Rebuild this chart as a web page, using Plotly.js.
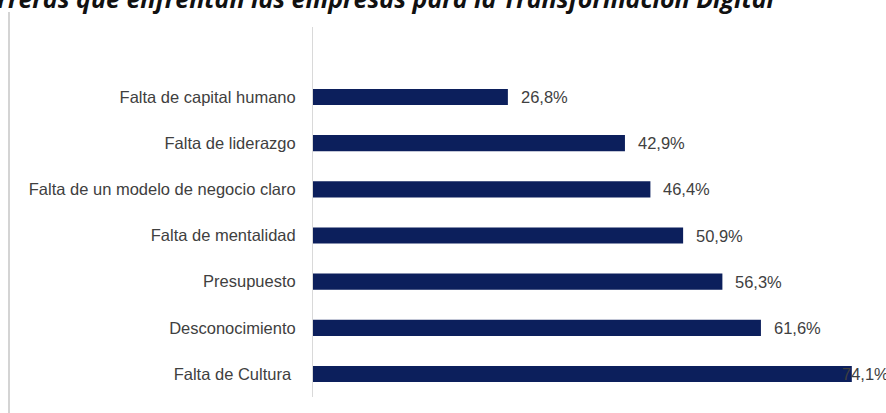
<!DOCTYPE html>
<html>
<head>
<meta charset="utf-8">
<script src="https://cdn.plot.ly/plotly-3.0.1.min.js"></script>
<style>html,body{margin:0;padding:0;background:#fff;}#chart{width:886px;height:413px;}</style>
</head>
<body>
<div id="chart"></div>
<script>
const categories = [
  "Falta de capital humano",
  "Falta de liderazgo",
  "Falta de un modelo de negocio claro",
  "Falta de mentalidad",
  "Presupuesto",
  "Desconocimiento",
  "Falta de Cultura\u00a0"
];
const values = [26.8, 42.9, 46.4, 50.9, 56.3, 61.6, 74.1];
const valueLabels = ["26,8%", "42,9%", "46,4%", "50,9%", "56,3%", "61,6%", "74,1%"];
const titleText = "Barreras que enfrentan las empresas para la Transformación Digital";

const W = 886, H = 413, L = 313, R = 0, T = 27, B = 16;
const xMax = 78.8;

const trace = {
  type: 'bar',
  orientation: 'h',
  y: categories,
  x: values,
  width: 0.35,
  marker: {color: '#0c1f5c', line: {width: 0}},
  hoverinfo: 'skip'
};

const annotations = values.map((v, i) => {
  const overflow = (v / xMax) * (W - L - R) + 60 > (W - L - R);
  return {
    x: v, y: categories[i], xref: 'x', yref: 'y',
    text: valueLabels[i], showarrow: false,
    xanchor: 'left', yanchor: 'middle',
    xshift: overflow ? -12 : 11,
    font: {family: 'Liberation Sans, Arial, sans-serif', size: 16.5, color: '#404040'}
  };
});

annotations.push({
  xref: 'paper', yref: 'paper',
  x: (778 - L) / (W - L - R), y: 1, xanchor: 'right', yanchor: 'bottom',
  yshift: 10,
  text: '<b><i>' + titleText + '</i></b>',
  showarrow: false,
  font: {family: 'Open Sans, sans-serif', size: 25, color: '#111'}
});

const layout = {
  width: W, height: H,
  margin: {l: L, r: R, t: T, b: B, pad: 0},
  paper_bgcolor: '#fff', plot_bgcolor: '#fff',
  showlegend: false,
  xaxis: {range: [0, xMax], visible: false, showgrid: false, zeroline: false, fixedrange: true},
  yaxis: {
    type: 'category',
    range: [6.498, -1.516],
    showgrid: false, zeroline: false,
    showline: true, linecolor: '#d9d9d9', linewidth: 1,
    ticks: 'outside', ticklen: 13, tickcolor: 'rgba(0,0,0,0)',
    tickfont: {family: 'Liberation Sans, Arial, sans-serif', size: 16.5, color: '#404040'},
    fixedrange: true
  },
  annotations: annotations,
  shapes: [{
    type: 'line', xref: 'paper', yref: 'paper',
    x0: (9 - L) / (W - L - R), x1: (9 - L) / (W - L - R),
    y0: -B / (H - T - B), y1: 1 + (T - 12) / (H - T - B),
    line: {color: '#d4d4d4', width: 2}
  }]
};

Plotly.newPlot('chart', [trace], layout, {displayModeBar: false, staticPlot: true});
</script>
</body>
</html>
